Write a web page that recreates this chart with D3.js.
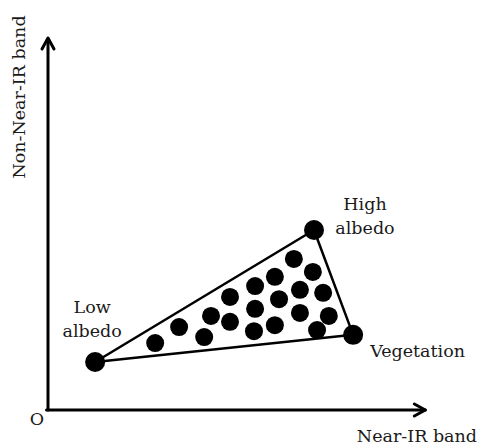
<!DOCTYPE html>
<html><head><meta charset="utf-8">
<script src="https://cdn.jsdelivr.net/npm/d3@7"></script>
<style>html,body{margin:0;padding:0;background:#fff;}svg{display:block;}</style>
</head><body>
<svg id="c" width="478" height="445"></svg>
<script>
// Endmember vertices (arbitrary reflectance units)
const vertexNames = ["Low albedo", "High albedo", "Vegetation"];
const vertexX = [12.4, 70.0, 80.3];
const vertexY = [12.9, 48.4, 20.2];
// Mixed pixels inside the triangle
const pixelX = [28.2, 34.5, 41.1, 42.9, 47.9, 47.9, 54.5, 54.5, 54.2, 59.7, 60.8, 59.7, 64.7, 66.3, 66.3, 69.7, 72.4, 73.9, 70.8];
const pixelY = [18.0, 22.3, 19.6, 25.3, 30.4, 23.7, 33.3, 27.2, 21.2, 35.8, 29.8, 22.8, 40.6, 32.3, 26.1, 37.1, 31.5, 25.3, 21.5];
const xAxisLabel = "Near-IR band";
const yAxisLabel = "Non-Near-IR band";
const originLabel = "O";

const svg = d3.select("#c");
const x = d3.scaleLinear().domain([0, 100]).range([48, 428]);
const y = d3.scaleLinear().domain([0, 100]).range([410, 38]);
const font = "'DejaVu Serif', 'Liberation Serif', serif";

// axes
const ax = svg.append("g").attr("stroke", "#000").attr("stroke-width", 3).attr("fill", "none")
  .attr("stroke-linecap", "round").attr("stroke-linejoin", "round");
ax.append("line").attr("x1", x(0)).attr("y1", y(0)).attr("x2", x(0)).attr("y2", y(100) + 1);
ax.append("line").attr("x1", x(0) - 1.5).attr("y1", y(0)).attr("x2", x(99.3)).attr("y2", y(0));
ax.append("path").attr("d", `M${x(0)-6},${y(100)+11} L${x(0)},${y(100)} L${x(0)+6},${y(100)+11}`);
ax.append("path").attr("d", `M${x(99.3)-11},${y(0)-6} L${x(99.3)},${y(0)} L${x(99.3)-11},${y(0)+6}`);

// triangle
const tri = vertexX.map((v, i) => [x(v), y(vertexY[i])]);
svg.append("path").attr("d", d3.line()(tri) + "Z")
  .attr("fill", "none").attr("stroke", "#000").attr("stroke-width", 2.5).attr("stroke-linejoin", "round");

// pixels
svg.append("g").selectAll("circle").data(pixelX).join("circle")
  .attr("cx", d => x(d)).attr("cy", (d, i) => y(pixelY[i])).attr("r", 9).attr("fill", "#000");
svg.append("g").selectAll("circle").data(vertexX).join("circle")
  .attr("cx", d => x(d)).attr("cy", (d, i) => y(vertexY[i])).attr("r", 10).attr("fill", "#000");

// labels
const t = svg.append("g").attr("font-family", font).attr("font-size", 17.5).attr("fill", "#1a1a1a");
function lines(px, py, arr, anchor) {
  const tx = t.append("text").attr("x", px).attr("y", py).attr("text-anchor", anchor);
  arr.forEach((s, i) => tx.append("tspan").attr("x", px).attr("dy", i ? 24 : 0).text(s));
}
lines(x(vertexX[0]) - 3, 313, ["Low", "albedo"], "middle");
lines(x(vertexX[1]) + 51, 210, ["High", "albedo"], "middle");
lines(x(vertexX[2]) + 17, 357, ["Vegetation"], "start");
t.append("text").attr("x", 477).attr("y", 442).attr("text-anchor", "end").text(xAxisLabel);
t.append("text").attr("x", 37).attr("y", 425).attr("text-anchor", "middle").text(originLabel);
t.append("text").attr("transform", "translate(25,97) rotate(-90)").attr("text-anchor", "middle").text(yAxisLabel);
</script>
</body></html>
